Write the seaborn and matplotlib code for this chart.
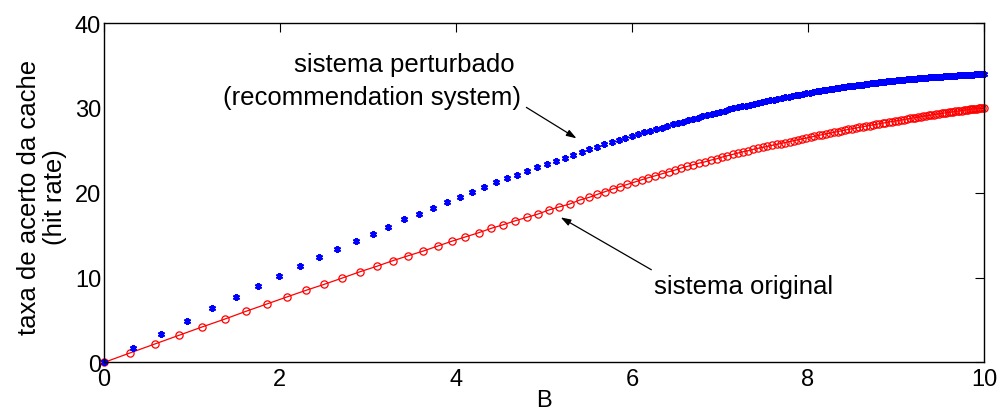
import matplotlib
matplotlib.use("Agg")
import matplotlib.pyplot as plt
import seaborn as sns

# sistema original (red circles + line)
orig_x = [0.00, 0.295, 0.58, 0.852, 1.114, 1.375, 1.614, 1.849, 2.076, 2.295,
          2.503, 2.708, 2.909, 3.099, 3.281, 3.458, 3.628, 3.792, 3.951, 4.105,
          4.258, 4.401, 4.538, 4.674, 4.807, 4.932, 5.053, 5.17, 5.292, 5.406,
          5.515, 5.606, 5.693, 5.781, 5.864, 5.947, 6.031, 6.11, 6.185, 6.265,
          6.341, 6.417, 6.489, 6.56, 6.628, 6.697, 6.765, 6.833, 6.898, 6.962,
          7.023, 7.083, 7.144, 7.205, 7.261, 7.318, 7.375, 7.432, 7.485, 7.538,
          7.591, 7.644, 7.69, 7.74, 7.79, 7.84, 7.89, 7.93, 7.98, 8.03,
          8.07, 8.12, 8.16, 8.21, 8.25, 8.29, 8.34, 8.38, 8.42, 8.46,
          8.50, 8.54, 8.58, 8.62, 8.66, 8.70, 8.74, 8.77, 8.81, 8.85,
          8.88, 8.92, 8.95, 8.99, 9.02, 9.06, 9.09, 9.12, 9.16, 9.19,
          9.22, 9.25, 9.28, 9.31, 9.34, 9.37, 9.40, 9.43, 9.46, 9.49,
          9.52, 9.54, 9.57, 9.60, 9.62, 9.65, 9.67, 9.70, 9.72, 9.75,
          9.77, 9.79, 9.82, 9.84, 9.86, 9.88, 9.90, 9.92, 9.94, 9.96,
          9.98, 10.0]
orig_y = [0.00, 1.12, 2.18, 3.20, 4.18, 5.12, 6.03, 6.89, 7.71, 8.50,
          9.21, 9.95, 10.69, 11.33, 11.99, 12.58, 13.13, 13.72, 14.28, 14.78,
          15.29, 15.81, 16.23, 16.70, 17.10, 17.49, 17.96, 18.32, 18.67, 19.14,
          19.46, 19.81, 20.12, 20.44, 20.71, 20.99, 21.26, 21.53, 21.77, 22.00,
          22.24, 22.47, 22.67, 22.91, 23.11, 23.30, 23.50, 23.65, 23.85, 24.00,
          24.20, 24.36, 24.52, 24.68, 24.83, 24.95, 25.11, 25.23, 25.35, 25.47,
          25.58, 25.70, 25.80, 25.91, 26.03, 26.14, 26.25, 26.34, 26.45, 26.56,
          26.65, 26.75, 26.84, 26.94, 27.01, 27.11, 27.21, 27.30, 27.38, 27.46,
          27.54, 27.61, 27.69, 27.77, 27.85, 27.92, 28.00, 28.06, 28.13, 28.21,
          28.26, 28.34, 28.39, 28.46, 28.51, 28.58, 28.63, 28.69, 28.76, 28.81,
          28.86, 28.91, 28.96, 29.01, 29.06, 29.11, 29.16, 29.21, 29.25, 29.30,
          29.35, 29.38, 29.42, 29.47, 29.50, 29.55, 29.58, 29.62, 29.65, 29.69,
          29.72, 29.75, 29.79, 29.82, 29.84, 29.87, 29.90, 29.92, 29.95, 29.97,
          30.00, 30.02]

# sistema perturbado (blue asterisks)
pert_x = [0.00, 0.333, 0.648, 0.947, 1.224, 1.497, 1.75, 1.992, 2.227, 2.447,
          2.651, 2.86, 3.053, 3.231, 3.413, 3.576, 3.739, 3.894, 4.042, 4.182,
          4.318, 4.451, 4.576, 4.697, 4.81, 4.924, 5.034, 5.136, 5.239, 5.333,
          5.428, 5.515, 5.599, 5.685, 5.769, 5.849, 5.924, 6.00, 6.072, 6.14,
          6.208, 6.276, 6.341, 6.401, 6.462, 6.523, 6.58, 6.636, 6.693, 6.747,
          6.799, 6.852, 6.906, 6.955, 7.003, 7.053, 7.102, 7.15, 7.20, 7.25,
          7.29, 7.34, 7.39, 7.43, 7.48, 7.52, 7.57, 7.61, 7.65, 7.70,
          7.74, 7.78, 7.82, 7.86, 7.90, 7.94, 7.98, 8.02, 8.06, 8.10,
          8.14, 8.17, 8.21, 8.25, 8.28, 8.32, 8.35, 8.39, 8.42, 8.46,
          8.49, 8.52, 8.56, 8.59, 8.62, 8.65, 8.68, 8.72, 8.75, 8.78,
          8.81, 8.84, 8.87, 8.90, 8.92, 8.95, 8.98, 9.01, 9.04, 9.07,
          9.09, 9.12, 9.15, 9.17, 9.20, 9.23, 9.25, 9.28, 9.30, 9.33,
          9.35, 9.38, 9.40, 9.43, 9.45, 9.47, 9.50, 9.52, 9.54, 9.57,
          9.59, 9.61, 9.63, 9.66, 9.68, 9.70, 9.72, 9.74, 9.76, 9.78,
          9.80, 9.82, 9.84, 9.86, 9.88, 9.90, 9.92, 9.94, 9.96, 9.98,
          10.0]
pert_y = [0.00, 1.71, 3.39, 4.92, 6.38, 7.71, 9.01, 10.19, 11.33, 12.39,
          13.37, 14.31, 15.17, 16.00, 16.87, 17.53, 18.23, 18.90, 19.53, 20.12,
          20.67, 21.22, 21.70, 22.12, 22.56, 22.99, 23.42, 23.77, 24.12, 24.44,
          24.79, 25.15, 25.42, 25.70, 25.97, 26.21, 26.44, 26.68, 26.88, 27.11,
          27.30, 27.50, 27.66, 27.86, 28.06, 28.21, 28.36, 28.53, 28.68, 28.83,
          29.00, 29.15, 29.27, 29.42, 29.54, 29.66, 29.82, 29.94, 30.06, 30.18,
          30.28, 30.39, 30.50, 30.59, 30.71, 30.79, 30.90, 30.98, 31.07, 31.17,
          31.26, 31.34, 31.41, 31.49, 31.57, 31.64, 31.72, 31.80, 31.87, 31.94,
          32.01, 32.06, 32.13, 32.20, 32.25, 32.31, 32.35, 32.41, 32.46, 32.52,
          32.56, 32.61, 32.66, 32.71, 32.75, 32.79, 32.83, 32.89, 32.93, 32.97,
          33.00, 33.04, 33.07, 33.11, 33.13, 33.17, 33.21, 33.24, 33.27, 33.30,
          33.32, 33.35, 33.38, 33.40, 33.43, 33.46, 33.48, 33.50, 33.52, 33.54,
          33.56, 33.58, 33.60, 33.62, 33.64, 33.66, 33.68, 33.69, 33.71, 33.73,
          33.74, 33.76, 33.77, 33.80, 33.81, 33.82, 33.84, 33.85, 33.87, 33.88,
          33.89, 33.90, 33.91, 33.92, 33.93, 33.94, 33.96, 33.97, 33.98, 33.99,
          34.00]

x_ticks = [0, 2, 4, 6, 8, 10]
y_ticks = [0, 10, 20, 30, 40]

sns.set_style("white")
plt.rcParams["font.family"] = ["Liberation Sans", "DejaVu Sans"]
plt.rcParams["text.color"] = "black"
plt.rcParams["axes.labelcolor"] = "black"

fig = plt.figure(figsize=(9.99, 4.14), dpi=100)
ax = fig.add_axes([0.104, 0.122, 0.881, 0.820])

sns.lineplot(x=orig_x, y=orig_y, ax=ax, color="red", lw=0.9, marker="o",
             ms=5.2, mfc="none", mec="red", mew=0.9, estimator=None, sort=False,
             clip_on=False)
sns.lineplot(x=pert_x, y=pert_y, ax=ax, color="blue", ls="none", marker=(6, 2, 0),
             ms=5, mec="blue", mew=1.5, estimator=None, sort=False, clip_on=False)

ax.set_xlim(0, 10)
ax.set_ylim(0, 40)
ax.set_xticks(x_ticks)
ax.set_yticks(y_ticks)
ax.tick_params(direction="in", length=6.5, width=0.8, top=True, right=True,
               labelsize=17, colors="black")
ax.tick_params(axis="x", pad=4)
ax.tick_params(axis="y", pad=2)
for sp in ax.spines.values():
    sp.set_visible(True)
    sp.set_color("black")
    sp.set_linewidth(1.0)

ax.set_xlabel("B", fontsize=17, labelpad=-1)
ax.set_ylabel("taxa de acerto da cache\n(hit rate)", fontsize=18.5,
              multialignment="center", linespacing=1.12)
ax.yaxis.set_label_coords(-0.042, 0.49)

ax.text(3.41, 35.16, "sistema perturbado", ha="center", va="center", fontsize=18.5)
ax.text(3.05, 31.27, "(recommendation system)", ha="center", va="center", fontsize=18.5)
ax.text(7.27, 9.01, "sistema original", ha="center", va="center", fontsize=18.5)

arrow = dict(arrowstyle="-|>,head_length=0.6,head_width=0.2", color="black",
             lw=0.9, shrinkA=0, shrinkB=0)
ax.annotate("", xy=(5.37, 26.41), xytext=(4.80, 30.06), arrowprops=arrow)
ax.annotate("", xy=(5.19, 17.10), xytext=(6.22, 10.93), arrowprops=arrow)

fig.savefig("out.png", dpi=100)
